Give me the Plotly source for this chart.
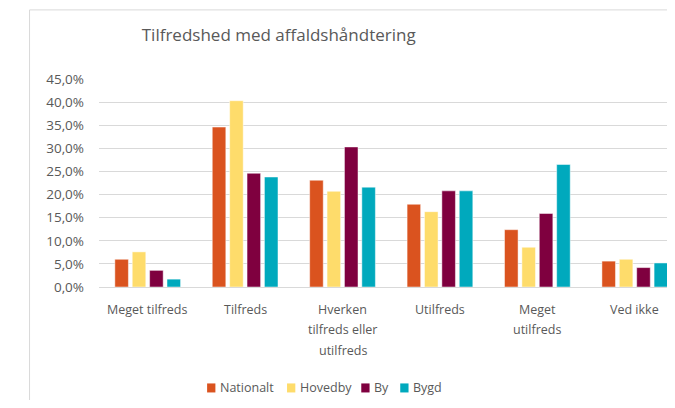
import plotly.graph_objects as go

categories = ["Meget tilfreds", "Tilfreds", "Hverken<br>tilfreds eller<br>utilfreds",
              "Utilfreds", "Meget<br>utilfreds", "Ved ikke"]
series_names = ["Nationalt", "Hovedby", "By", "Bygd"]
nationalt = [0.060, 0.346, 0.231, 0.179, 0.124, 0.056]
hovedby = [0.076, 0.403, 0.207, 0.163, 0.086, 0.060]
by = [0.036, 0.246, 0.303, 0.208, 0.159, 0.042]
bygd = [0.017, 0.238, 0.216, 0.208, 0.265, 0.052]
colors = ["#DA531F", "#FEDC6B", "#7F003F", "#00A9BD"]
title_text = "Tilfredshed med affaldshåndtering"

FONT = "Open Sans, Liberation Sans, sans-serif"
GREY = "#595959"

# page body has an 8px margin; figure coordinates = screenshot coordinates - 8
OFF = 8
W, H = 675 - OFF, 408 - 2 * OFF
L, R = 98.5 - OFF, 675.0 - OFF
TOP, BOT = 79.0 - OFF, 286.7 - OFF


def px_x(p):
    return (p - OFF - L) / (R - L)


def px_y(p):
    return (BOT - (p - OFF)) / (BOT - TOP)


fig = go.Figure()
for name, vals, col in zip(series_names, [nationalt, hovedby, by, bygd], colors):
    fig.add_trace(go.Bar(
        x=list(range(len(categories))), y=vals, name=name,
        marker=dict(color=col, line=dict(color="rgba(255,255,255,0.6)", width=0.8)),
        showlegend=False,
    ))

cat_w = 97.5
n_extra = (R - L) / cat_w
fig.update_layout(
    width=W, height=H,
    margin=dict(l=L, r=W - R, t=TOP, b=H - BOT, autoexpand=False),
    paper_bgcolor="white", plot_bgcolor="white",
    separators=",.",
    barmode="group", bargap=0.286, bargroupgap=0.22,
    font=dict(family=FONT, color=GREY, size=12),
    title=dict(text=title_text, x=(278.7 - OFF) / W, xref="container", xanchor="center",
               y=1 - (35 - OFF) / H, yref="container", yanchor="middle",
               font=dict(family=FONT, size=17, color=GREY)),
    xaxis=dict(range=[-0.5, -0.5 + n_extra], showticklabels=False, showgrid=False,
               zeroline=False, showline=True, linecolor="#D9D9D9", linewidth=1,
               ticks="", fixedrange=True),
    yaxis=dict(range=[0, 0.45], dtick=0.05, tickformat=".1%", showgrid=True,
               gridcolor="#D9D9D9", gridwidth=1, zeroline=False, showline=False,
               ticks="", ticklabelstandoff=14, fixedrange=True,
               tickfont=dict(family=FONT, size=13.5, color=GREY)),
)

# category labels (multi-line, Excel-like line spacing)
line_gap = 20.5
for i, cat in enumerate(categories):
    for j, line in enumerate(cat.split("<br>")):
        fig.add_annotation(x=i, y=px_y(309 + j * line_gap), xref="x", yref="paper",
                           text=line, showarrow=False, xanchor="center", yanchor="middle",
                           font=dict(family=FONT, size=12.5, color=GREY))

# legend (Excel style: small square + text)
legend_left = [206.7, 286.7, 361.0, 400.0]
for name, col, lx in zip(series_names, colors, legend_left):
    fig.add_shape(type="rect", xref="paper", yref="paper",
                  x0=px_x(lx), x1=px_x(lx + 8.3), y0=px_y(392), y1=px_y(383),
                  line=dict(width=0), fillcolor=col)
    fig.add_annotation(x=px_x(lx + 10.5), y=px_y(387.5), xref="paper", yref="paper",
                       text=name, showarrow=False, xanchor="left", yanchor="middle",
                       font=dict(family=FONT, size=12.5, color=GREY))

# chart area border (left and top edges only; the rest is cropped away)
border = dict(color="#D9D9D9", width=1)
fig.add_shape(type="line", xref="paper", yref="paper",
              x0=px_x(29), x1=px_x(29), y0=px_y(420), y1=px_y(10), line=border, layer="below")
fig.add_shape(type="line", xref="paper", yref="paper",
              x0=px_x(29), x1=px_x(690), y0=px_y(10), y1=px_y(10), line=border, layer="below")

fig.write_html("out.html")
